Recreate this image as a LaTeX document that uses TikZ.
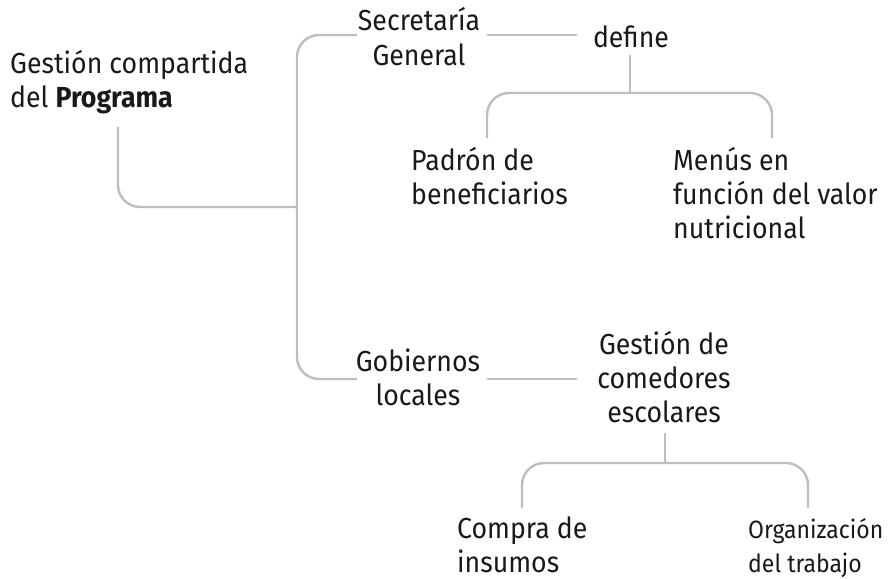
\documentclass[tikz,border=0pt]{standalone}
\usepackage{fontspec}
\setmainfont{Fira Sans}[FakeStretch=0.92]
\definecolor{linegray}{RGB}{189,190,191}
\definecolor{ink}{RGB}{25,25,25}
\begin{document}
\begin{tikzpicture}[x=1pt,y=-1pt,
  lbl/.style={inner sep=0pt,text=ink,font=\fontsize{29}{34}\selectfont},
  lblL/.style={lbl,align=left,anchor=base west},
  lblC/.style={lbl,align=center,anchor=base},
  conn/.style={draw=linegray,line width=2.4pt,rounded corners=22pt}]
\useasboundingbox (0,0) rectangle (888,578);
% texts (anchored at the baseline of their last line)
\node[lblL] (root) at (10,107) {Gestión compartida\\del \textbf{Programa}};
\node[lblC] (sec) at (419,65) {Secretaría\\General};
\node[lblC] (def) at (631,48) {define};
\node[lblL] (pad) at (411,204) {Padrón de\\beneficiarios};
\node[lblL] (men) at (673,238) {Menús en\\función del valor\\nutricional};
\node[lblC] (gob) at (418,405) {Gobiernos\\locales};
\node[lblC] (com) at (664,422) {Gestión de\\comedores\\escolares};
\node[lblL] (ins) at (457,572) {Compra de\\insumos};
\node[lblL,font=\fontsize{25}{34}\selectfont] (org) at (748,572) {Organización\\del trabajo};
% connector end points
\coordinate (rootdown) at (118,127);
\coordinate (spine) at (297,207);
\coordinate (secin) at (357,35);
\coordinate (gobin) at (357,379);
\coordinate (secout) at (487,35);
\coordinate (defin) at (577,35);
\coordinate (defdown) at (630,55);
\coordinate (defsplit) at (630,93);
\coordinate (padup) at (487,138);
\coordinate (menup) at (772,138);
\coordinate (gobout) at (487,379);
\coordinate (comin) at (577,379);
\coordinate (comdown) at (665,433);
\coordinate (comsplit) at (665,463);
\coordinate (insup) at (522,508);
\coordinate (orgup) at (808,508);
% connectors
\draw[conn] (secin) -- (297,35) -- (297,379) -- (gobin);
\draw[conn] (rootdown) |- (spine);
\draw[conn] (secout) -- (defin);
\draw[conn] (defdown) -- (defsplit);
\draw[conn] (padup) |- (defsplit) -| (menup);
\draw[conn] (gobout) -- (comin);
\draw[conn] (comdown) -- (comsplit);
\draw[conn] (insup) |- (comsplit) -| (orgup);
\end{tikzpicture}
\end{document}
